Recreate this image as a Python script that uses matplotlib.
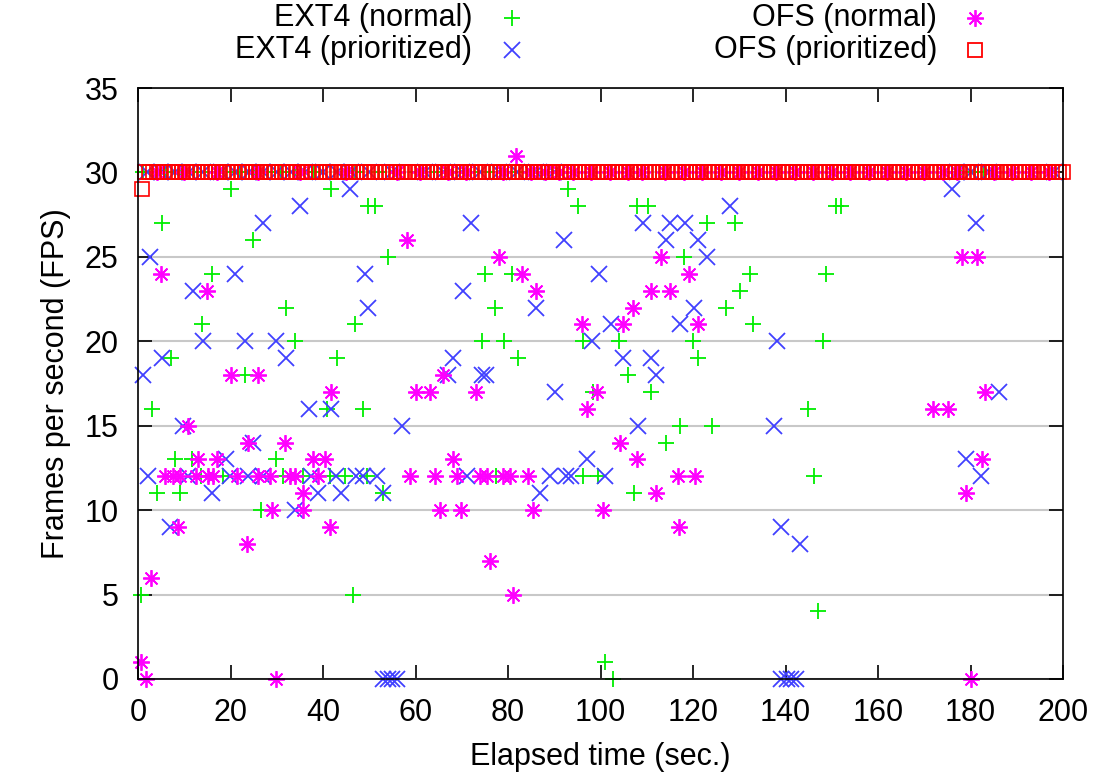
import matplotlib
matplotlib.use('Agg')
import matplotlib.pyplot as plt
from matplotlib.lines import Line2D

plt.rcParams['font.family'] = ['Liberation Sans', 'DejaVu Sans']

# EXT4 (normal) - green +
ext4_norm_t = [0.75, 3, 4.2, 5.1, 7.2, 8, 9, 11.6, 13.7, 13.9, 15.9, 18.4, 20.1, 23.1, 24.9,
               26.7, 29.9, 31.4, 32, 33.9, 35.7, 40.8, 41.5, 41.8, 43, 44.7, 46.4, 46.9, 48.7,
               49.7, 49.5, 51.2, 53, 54.1, 74.3, 75, 77.1, 77.5, 79.1, 80.8, 82.2, 93, 95.2,
               96.2, 96.2, 98.4, 99.5, 100.9, 102.6, 104, 106, 107.2, 107.8, 110.3, 111, 114.1,
               117.1, 118, 120, 121.1, 123, 124, 127.1, 129, 130.1, 132.3, 133, 144.9, 146.1,
               147, 148.7, 148.2, 151, 152.1,
               1, 3, 6, 9, 12, 16, 19, 22, 25, 28, 31, 34, 38, 44, 47, 52, 60, 64, 68, 72, 76,
               80, 84, 88, 176, 178, 181, 183]
ext4_norm_fps = [5, 16, 11, 27, 19, 13, 11, 13, 12, 21, 24, 12, 29, 18, 26,
                 10, 13, 12, 22, 20, 12, 16, 12, 29, 19, 12, 5, 21, 16,
                 28, 12, 28, 11, 25, 20, 24, 22, 12, 20, 24, 19, 29, 28,
                 20, 12, 17, 12, 1, 0, 20, 18, 11, 28, 28, 17, 14,
                 15, 25, 20, 19, 27, 15, 22, 27, 23, 24, 21, 16, 12,
                 4, 24, 20, 28, 28,
                 30, 30, 30, 30, 30, 30, 30, 30, 30, 30, 30, 30, 30, 30, 30, 30, 30, 30, 30, 30, 30,
                 30, 30, 30, 30, 30, 30, 30]

# EXT4 (prioritized) - blue x
ext4_prio_t = [1, 2.2, 2.7, 5.1, 6.9, 9.75, 10.8, 11.9, 14.1, 15.9, 19, 19.8, 20.9, 23.1, 23.8,
               24.9, 27.1, 27.1, 29.9, 32.1, 33.9, 35, 37, 37.5, 38.9, 41.8, 42.9, 43.9, 45.9,
               47.2, 48.7, 49, 49.8, 51.6, 53, 53, 54, 55, 56, 57, 67, 68.1, 70.2, 71.2, 72.1,
               74.3, 75.2, 86, 86.9, 89, 90.1, 92.1, 92.6, 93.7, 97, 98.2, 99.6, 100.9, 102.2,
               104.9, 108, 109.1, 111, 112.1, 114.1, 115, 117.1, 118.2, 120.2, 121.1, 123, 128.1,
               137.5, 138.2, 139.1, 143.1, 139, 140.3, 141.2, 142.2, 176.1, 179.1, 181.1, 182.2,
               186.2,
               2, 5, 8, 11, 14, 18, 21, 24, 27, 30, 33, 36, 40, 43, 46, 50, 55, 62, 66, 70, 74,
               78, 82, 86, 90, 177, 180, 184, 198]
ext4_prio_fps = [18, 12, 25, 19, 9, 15, 12, 23, 20, 11, 13, 12, 24, 20, 12,
                 14, 27, 12, 20, 19, 10, 28, 16, 12, 11, 16, 12, 11, 29,
                 12, 12, 24, 22, 12, 11, 0, 0, 0, 0, 15, 18, 19, 23, 12, 27,
                 18, 18, 22, 11, 12, 17, 26, 12, 12, 13, 20, 24, 12, 21,
                 19, 15, 27, 19, 18, 26, 27, 21, 27, 22, 26, 25, 28,
                 15, 20, 9, 8, 0, 0, 0, 0, 29, 13, 27, 12,
                 17,
                 30, 30, 30, 30, 30, 30, 30, 30, 30, 30, 30, 30, 30, 30, 30, 30, 30, 30, 30, 30, 30,
                 30, 30, 30, 30, 30, 30, 30, 30]

# OFS (normal) - magenta asterisk
ofs_norm_t = [0.75, 1.8, 2.9, 4.9, 5.8, 7.6, 8.7, 9, 10.8, 12.6, 13, 14.9, 15.2, 16.2, 17,
              20.1, 21.3, 23.5, 23.8, 26, 26, 28.5, 28.9, 29.9, 31.7, 32.8, 33.9, 35.7, 35.7,
              37.9, 38.9, 40.4, 41.5, 41.8, 58.1, 58.8, 60.1, 63.1, 64.2, 65.3, 66, 68.1, 68.9,
              69.9, 73, 73.9, 75.4, 76.1, 78.1, 78.9, 80.4, 81, 81.8, 83.1, 84.3, 85.3, 86,
              96.1, 97, 99.3, 100.5, 104.2, 104.9, 107.1, 107.9, 111, 112.1, 113, 115.1, 116.8,
              117, 119.2, 120.4, 121.1, 171.9, 175.2, 178.1, 179.1, 180.2, 181.3, 182.4, 183.1,
              4, 10, 17, 26, 35, 45, 56, 61, 67, 71, 79, 85, 88, 91, 94, 98, 102, 106, 109, 114,
              118, 122, 126, 130, 134, 138, 142, 146, 150, 154, 158, 162, 166, 170, 174, 177,
              185, 189, 193, 197]
ofs_norm_fps = [1, 0, 6, 24, 12, 12, 9, 12, 15, 12, 13, 23, 12, 12, 13,
                18, 12, 8, 14, 18, 12, 12, 10, 0, 14, 12, 12, 11, 10,
                13, 12, 13, 9, 17, 26, 12, 17, 17, 12, 10, 18, 13, 12,
                10, 17, 12, 12, 7, 25, 12, 12, 5, 31, 24, 12, 10, 23,
                21, 16, 17, 10, 14, 21, 22, 13, 23, 11, 25, 23, 12,
                9, 24, 12, 21, 16, 16, 25, 11, 0, 25, 13, 17,
                30, 30, 30, 30, 30, 30, 30, 30, 30, 30, 30, 30, 30, 30, 30, 30, 30, 30, 30, 30,
                30, 30, 30, 30, 30, 30, 30, 30, 30, 30, 30, 30, 30, 30, 30, 30,
                30, 30, 30, 30]

# OFS (prioritized) - red squares, steady 30 fps after the first sample
ofs_prio_t = [i * 0.8 for i in range(1, 251)]
ofs_prio_fps = [29] + [30] * 249

labels = ['EXT4 (normal)', 'EXT4 (prioritized)', 'OFS (normal)', 'OFS (prioritized)']
colors = ['#00ee00', '#4040ff', '#ff00ff', '#ff0000']
asterisk = (8, 2, 0)

fig = plt.figure(figsize=(10.97, 7.75), dpi=100)
ax = fig.add_axes([138 / 1097, 1 - 679 / 775, 925 / 1097, 591 / 775])

ax.plot(ext4_norm_t, ext4_norm_fps, ls='none', marker='+', ms=12, mew=1.3, color=colors[0],
        clip_on=False)
ax.plot(ext4_prio_t, ext4_prio_fps, ls='none', marker='x', ms=11, mew=1.3, color=colors[1],
        clip_on=False)
ax.plot(ofs_norm_t, ofs_norm_fps, ls='none', marker=asterisk, ms=12, mew=1.3, color=colors[2],
        clip_on=False)
ax.plot(ofs_prio_t, ofs_prio_fps, ls='none', marker='s', ms=9.5, mew=1.2, mfc='none',
        color=colors[3], clip_on=False)

ax.set_xlim(0, 200)
ax.set_ylim(0, 35)
ax.set_xticks(range(0, 201, 20))
ax.set_yticks(range(0, 36, 5))
ax.yaxis.grid(True, color='#c8c8c8', lw=1.5)
ax.set_axisbelow(True)
ax.tick_params(direction='in', length=10, width=1.2, labelsize=22, top=True, right=True, pad=14)
for s in ax.spines.values():
    s.set_linewidth(1.2)

ax.set_xlabel('Elapsed time (sec.)', fontsize=22, labelpad=10)
ax.set_ylabel('Frames per second (FPS)', fontsize=22, labelpad=10)

# gnuplot-style key on top, text right-aligned before the sample
key_rows = [1 - 18 / 775, 1 - 50 / 775]
key_text_x = [472 / 1097, 937 / 1097]
key_mark_x = [512 / 1097, 975 / 1097]
markers = [('+', 12, None), ('x', 11, None), (asterisk, 12, None), ('s', 9.5, 'none')]
order = [(0, 0), (0, 1), (1, 0), (1, 1)]
for i, (col, row) in enumerate(order):
    fig.text(key_text_x[col], key_rows[row], labels[i], ha='right', va='center', fontsize=22)
    m, ms, mfc = markers[i]
    kw = dict(marker=m, ms=ms, mew=1.3, color=colors[i], ls='none', transform=fig.transFigure)
    if mfc:
        kw['mfc'] = mfc
    fig.add_artist(Line2D([key_mark_x[col]], [key_rows[row]], **kw))

plt.savefig('out.png', dpi=100)
